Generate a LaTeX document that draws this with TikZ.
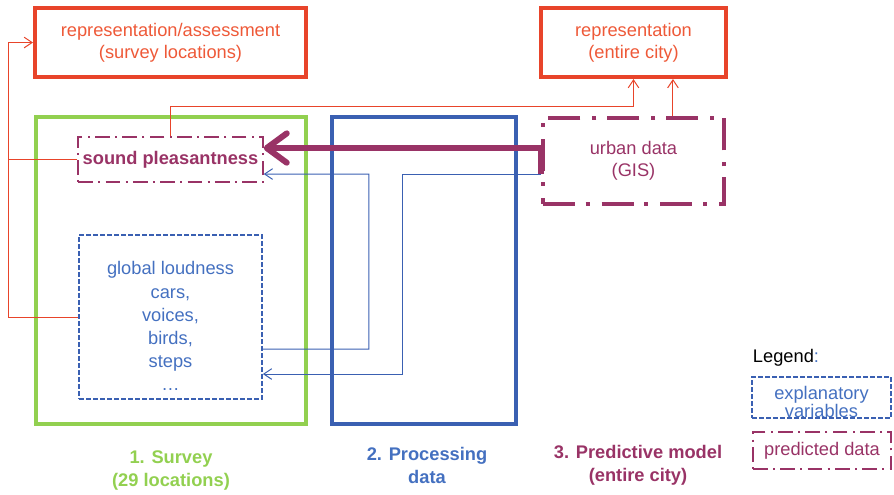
\documentclass[tikz,border=0pt]{standalone}
\usepackage{fontspec}
\setmainfont{Liberation Sans}
\usetikzlibrary{arrows.meta}

\definecolor{cred}{HTML}{E8442A}
\definecolor{credtxt}{HTML}{EE5938}
\definecolor{cgreen}{HTML}{92D050}
\definecolor{cblue}{HTML}{3A60B2}
\definecolor{cbluetxt}{HTML}{4470C0}
\definecolor{cpurp}{HTML}{993366}

\tikzset{
  repbox/.style={draw=cred,line width=3pt,text=credtxt,align=center},
  stagebox/.style={draw=#1,line width=3pt},
  urbanbox/.style={draw=cpurp,line width=3pt,dash pattern=on 24pt off 8pt on 3pt off 9pt,text=cpurp,align=center},
  predbox/.style={draw=cpurp,line width=1.5pt,dash pattern=on 11pt off 4pt on 1.5pt off 4pt,text=cpurp,align=center},
  explbox/.style={draw=cblue,line width=1.3pt,dash pattern=on 3.5pt off 1.75pt,text=cbluetxt,align=center},
  stagelabel/.style={text=#1,align=center,font=\fontsize{13.7}{17.25}\selectfont\bfseries},
  redlink/.style={draw=cred,line width=0.75pt},
  redarrow/.style={redlink,-{Straight Barb[length=6pt,width=8pt]}},
  bluearrow/.style={draw=cblue,line width=0.75pt,-{Straight Barb[length=6pt,width=8pt]}},
  bigarrow/.style={draw=cpurp,line width=4.5pt,-{Straight Barb[round,length=15pt,width=22pt]}}
}

\begin{document}
\begin{tikzpicture}[x=0.75pt,y=-0.75pt,font=\fontsize{13.7}{16.5}\selectfont]
        \useasboundingbox (0,0) rectangle (894,494);
        \node[repbox,minimum width=203.25pt,minimum height=51.75pt] (assess) at (170.5,42.5) {representation/assessment\\(survey locations)};
        \node[repbox,minimum width=138.75pt,minimum height=51.75pt] (cityrep) at (633.5,42.5) {representation\\(entire city)};
        \node[stagebox=cgreen,minimum width=202.5pt,minimum height=230.25pt] (survey) at (171,270.5) {};
        \node[stagebox=cblue,minimum width=138pt,minimum height=230.25pt] (processing) at (424,270.5) {};
        \node[urbanbox,minimum width=135.75pt,minimum height=64.5pt] (urban) at (633.5,161) {urban data\\(GIS)};
        \node[predbox,font=\fontsize{13.7}{16.5}\selectfont\bfseries,minimum width=137.25pt,minimum height=33.75pt] (pleasant) at (170.5,159.5) {sound pleasantness};
        \node[explbox,minimum width=137.25pt,minimum height=123pt] (loudness) at (170.5,317) {};
        \node[text=cbluetxt,align=center,font=\fontsize{13.7}{17.3}\selectfont] (loudtext) at (170.5,326) {global loudness\\cars,\\voices,\\birds,\\steps\\…};

        \node (legend) at (786,358) {Legend{\color{cbluetxt}:}};
        \node[explbox,minimum width=104.25pt,minimum height=30.75pt] (legexpl) at (821.5,397.5) {};
        \node[text=cbluetxt,align=center,font=\fontsize{13.7}{13.5}\selectfont] (legexpltext) at (821.5,401.5) {explanatory\\variables};
        \node[predbox,inner sep=0pt,minimum width=103.5pt,minimum height=27.75pt] (legpred) at (822,450.5) {predicted data};

        \node[stagelabel=cgreen] (surveylab) at (171,471) {1. Survey\\(29 locations)};
        \node[stagelabel=cbluetxt] (proclab) at (427,465) {2. Processing\\data};
        \node[stagelabel=cpurp] (predlab) at (638,465) {3. Predictive model\\(entire city)};

        \coordinate (redbus) at (8,42.5);
        \draw[redarrow] (pleasant.west) -| (redbus) -- (assess.west);
        \draw[redlink] (loudness.west) -| (redbus);
        \draw[redarrow] (pleasant.north) -- ++(0,-30) -| (cityrep.south);
        \draw[redarrow] ([xshift=29.6pt]urban.north) -- ([xshift=29.6pt]cityrep.south);
        \draw[bigarrow] ([yshift=-9.75pt]urban.west) |- ([yshift=8.6pt]pleasant.east);
        \draw[bluearrow] ([yshift=-9.75pt]urban.west) -| ++(-139,200) -- ([yshift=-42.75pt]loudness.east);
        \draw[bluearrow] ([yshift=-24pt]loudness.east) -| ++(106,-175) -- ([yshift=-10.9pt]pleasant.east);
\end{tikzpicture}
\end{document}
